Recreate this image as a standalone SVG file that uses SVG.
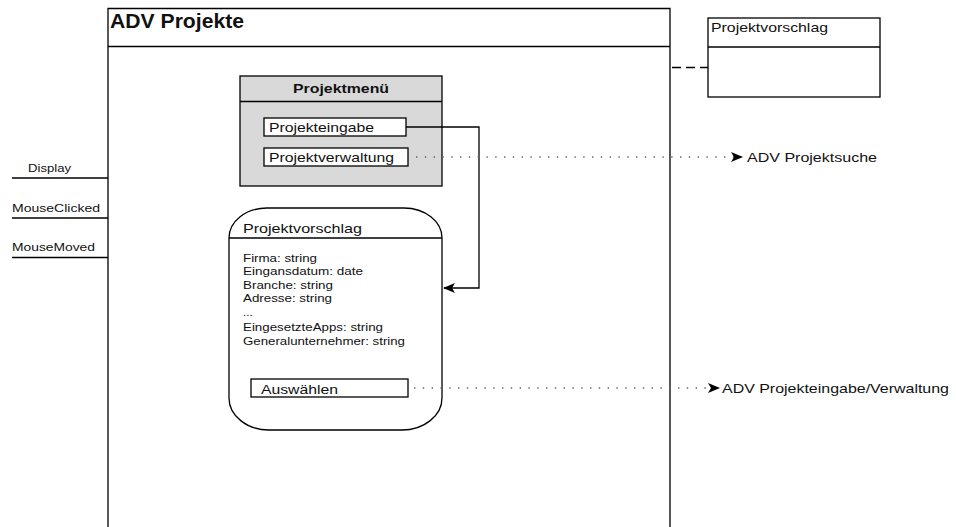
<svg xmlns="http://www.w3.org/2000/svg" width="956" height="527" viewBox="0 0 956 527">
  <style>
    text { font-family: "Liberation Sans", Arial, sans-serif; fill: #111; }
    .box { fill: #fff; stroke: #000; stroke-width: 1.3; }
    .ln { stroke: #000; stroke-width: 1.3; fill: none; }
    .sm { font-size: 11.5px; }
    .md { font-size: 13px; }
    .dot { stroke: #666; stroke-width: 1.4; stroke-dasharray: 1.4 7.4; fill: none; }
  </style>
  <defs>
    <marker id="arr" markerWidth="12" markerHeight="10" refX="11" refY="5" orient="auto" markerUnits="userSpaceOnUse">
      <path d="M0,0 L12,5 L0,10 L3,5 Z" fill="#000"/>
    </marker>
  </defs>
  <rect width="956" height="527" fill="#fff"/>

  <!-- main window frame -->
  <g id="adv-projekte">
    <path class="box" d="M108,540 V8.5 H670 V540"/>
    <line class="ln" x1="108" y1="46.5" x2="670" y2="46.5"/>
    <text x="110" y="28" font-size="20" font-weight="bold" textLength="134" lengthAdjust="spacingAndGlyphs">ADV Projekte</text>
  </g>

  <!-- event lines on the left -->
  <g id="events">
    <text class="sm" x="28" y="172" textLength="43" lengthAdjust="spacingAndGlyphs">Display</text>
    <line class="ln" x1="12" y1="178" x2="108" y2="178"/>
    <text class="sm" x="12" y="212" textLength="88" lengthAdjust="spacingAndGlyphs">MouseClicked</text>
    <line class="ln" x1="12" y1="218" x2="108" y2="218"/>
    <text class="sm" x="12" y="251" textLength="83" lengthAdjust="spacingAndGlyphs">MouseMoved</text>
    <line class="ln" x1="12" y1="257.5" x2="108" y2="257.5"/>
  </g>

  <!-- menu panel -->
  <g id="projektmenue">
    <rect x="240" y="76" width="202" height="110" fill="#d9d9d9" stroke="#000" stroke-width="1.3"/>
    <line class="ln" x1="240" y1="101.5" x2="442" y2="101.5"/>
    <text x="293" y="93" font-size="13" font-weight="bold" textLength="96" lengthAdjust="spacingAndGlyphs">Projektmenü</text>
  </g>
  <g id="projekteingabe">
    <rect class="box" x="264" y="118" width="142" height="18"/>
    <text class="md" x="269" y="132" textLength="105" lengthAdjust="spacingAndGlyphs">Projekteingabe</text>
  </g>
  <g id="projektverwaltung">
    <rect class="box" x="264" y="148" width="144" height="18"/>
    <text class="md" x="269" y="162" textLength="125" lengthAdjust="spacingAndGlyphs">Projektverwaltung</text>
  </g>

  <!-- proposal dialog -->
  <g id="projektvorschlag-dialog">
    <path class="box" d="M229,238 A38,30 0 0 1 267,208 H404 A38,30 0 0 1 442,238 V398 A40,32 0 0 1 402,430 H269 A40,32 0 0 1 229,398 Z"/>
    <line class="ln" x1="229" y1="238" x2="442" y2="238"/>
    <text class="md" x="243" y="233" textLength="119" lengthAdjust="spacingAndGlyphs">Projektvorschlag</text>
    <text class="sm" x="243" y="262" textLength="74" lengthAdjust="spacingAndGlyphs">Firma: string</text>
    <text class="sm" x="243" y="275" textLength="120" lengthAdjust="spacingAndGlyphs">Eingansdatum: date</text>
    <text class="sm" x="243" y="289" textLength="90" lengthAdjust="spacingAndGlyphs">Branche: string</text>
    <text class="sm" x="243" y="302" textLength="89" lengthAdjust="spacingAndGlyphs">Adresse: string</text>
    <text class="sm" x="243" y="316">...</text>
    <text class="sm" x="243" y="331" textLength="140" lengthAdjust="spacingAndGlyphs">EingesetzteApps: string</text>
    <text class="sm" x="243" y="345" textLength="162" lengthAdjust="spacingAndGlyphs">Generalunternehmer: string</text>
  </g>
  <g id="auswaehlen">
    <rect class="box" x="251" y="379" width="157" height="18"/>
    <text class="md" x="261" y="394" textLength="77" lengthAdjust="spacingAndGlyphs">Auswählen</text>
  </g>

  <!-- separate class box -->
  <g id="projektvorschlag-klasse">
    <rect class="box" x="708" y="18" width="172" height="79"/>
    <line class="ln" x1="708" y1="47" x2="880" y2="47"/>
    <text class="md" x="711" y="32" textLength="117" lengthAdjust="spacingAndGlyphs">Projektvorschlag</text>
  </g>

  <!-- connectors -->
  <g id="connectors">
    <line class="ln" x1="672" y1="67.5" x2="708" y2="67.5" stroke-dasharray="9 5"/>
    <polyline class="ln" points="406,127 479,127 479,288 444,288" marker-end="url(#arr)"/>
    <line class="dot" x1="416" y1="157" x2="742" y2="157" marker-end="url(#arr)"/>
    <line class="dot" x1="414" y1="388" x2="719" y2="388" marker-end="url(#arr)"/>
  </g>
  <g id="targets">
    <text class="md" x="747" y="162" textLength="130" lengthAdjust="spacingAndGlyphs">ADV Projektsuche</text>
    <text class="md" x="722" y="393" textLength="227" lengthAdjust="spacingAndGlyphs">ADV Projekteingabe/Verwaltung</text>
  </g>
</svg>
